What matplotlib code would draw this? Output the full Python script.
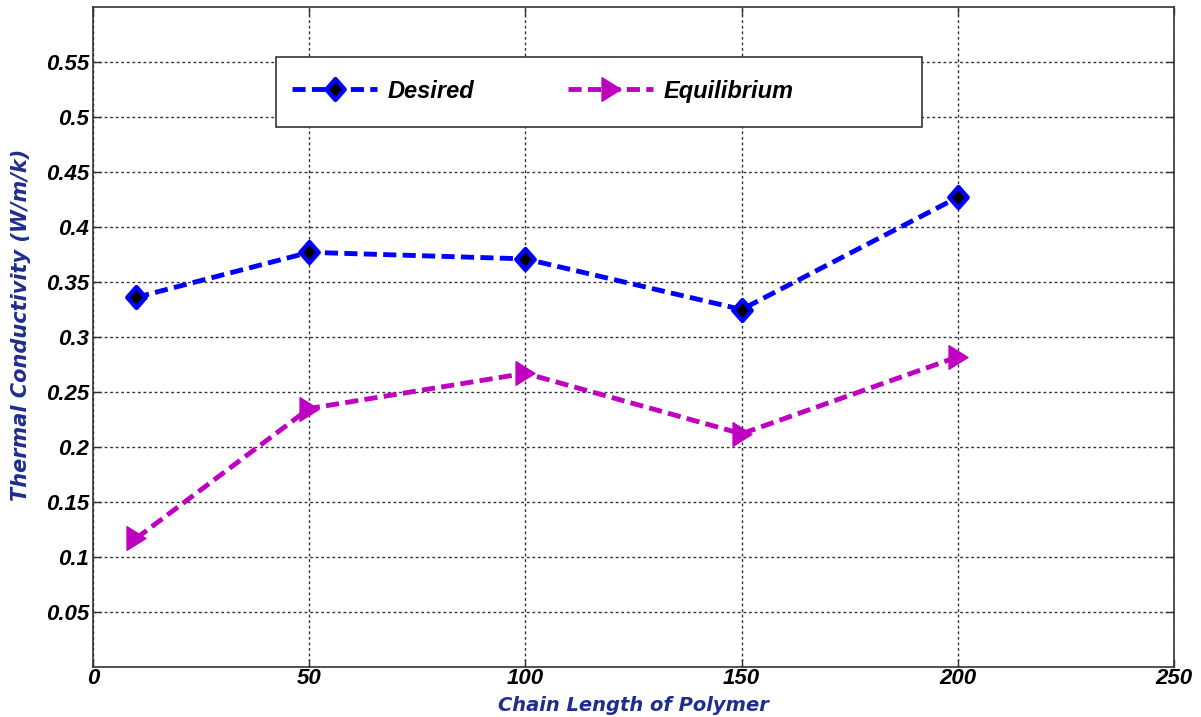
import matplotlib

matplotlib.use("Agg")
import matplotlib.pyplot as plt
from matplotlib.patches import Rectangle
from matplotlib.path import Path

chain_length = [10, 50, 100, 150, 200]
desired = [0.336, 0.377, 0.371, 0.325, 0.427]
equilibrium = [0.117, 0.235, 0.267, 0.212, 0.282]

x_ticks = [0, 50, 100, 150, 200, 250]
y_ticks = [0.05, 0.1, 0.15, 0.2, 0.25, 0.3, 0.35, 0.4, 0.45, 0.5, 0.55]
y_ticklabels = ["0.05", "0.1", "0.15", "0.2", "0.25", "0.3", "0.35", "0.4",
                "0.45", "0.5", "0.55"]

plt.rcParams["font.family"] = ["Liberation Sans", "DejaVu Sans"]
LABEL_COLOR = "#1f2d8f"

# MATLAB-ish markers: tall diamond, right triangle
tall_diamond = Path([(0, 1), (0.88, 0), (0, -1), (-0.88, 0), (0, 1)],
                    [Path.MOVETO, Path.LINETO, Path.LINETO, Path.LINETO, Path.CLOSEPOLY])
right_tri = Path([(-0.8, 1), (0.8, 0), (-0.8, -1), (-0.8, 1)],
                 [Path.MOVETO, Path.LINETO, Path.LINETO, Path.CLOSEPOLY])

fig = plt.figure(figsize=(12.01, 7.17), dpi=100)
ax = fig.add_axes([93 / 1201, 1 - 667 / 717, 1081 / 1201, 660 / 717])

ax.plot(chain_length, desired, color="#0000ff", lw=3.5, dashes=(2.7, 1.3),
        marker=tall_diamond, ms=15, mfc="black", mec="#0000ff", mew=3.2,
        label="Desired", zorder=3)
ax.plot(chain_length, equilibrium, color="#c000c0", lw=3.5, dashes=(2.7, 1.3),
        marker=right_tri, ms=17, mfc="#c000c0", mec="#c000c0", mew=1,
        label="Equilibrium", zorder=3)

ax.set_xlim(0, 250)
ax.set_ylim(0, 0.6)
ax.set_xticks(x_ticks)
ax.set_xticklabels([str(t) for t in x_ticks])
ax.set_yticks(y_ticks)
ax.set_yticklabels(y_ticklabels)
ax.tick_params(direction="in", length=6, width=1, top=True, right=True,
               labelsize=16, colors="#333333", labelcolor="black")
ax.tick_params(axis="x", pad=1)
ax.tick_params(axis="y", pad=3)
for lab in ax.get_xticklabels() + ax.get_yticklabels():
    lab.set_fontweight("bold")
    lab.set_fontstyle("italic")

ax.grid(True, color="#333333", linestyle=(0, (2, 2)), lw=1)
for sp in ax.spines.values():
    sp.set_linewidth(1.2)
    sp.set_color("#333333")

ax.set_xlabel("Chain Length of Polymer", fontsize=14, fontweight="bold",
              fontstyle="italic", color=LABEL_COLOR, family="DejaVu Sans",
              labelpad=5)
ax.set_ylabel("Thermal Conductivity (W/m/k)", fontsize=15, fontweight="bold",
              fontstyle="italic", color=LABEL_COLOR, family="DejaVu Sans")
ax.yaxis.set_label_coords(-0.057, 0.518)

# legend box (MATLAB style, wider than its contents)
ax.add_patch(Rectangle((0.1694, 0.818), 0.5973, 0.1062, transform=ax.transAxes,
                       facecolor="white", edgecolor="#333333", lw=1.2, zorder=4))
leg = ax.legend(loc="center left", bbox_to_anchor=(0.1843, 0.8727),
                ncol=2, frameon=False, handlelength=3.6, handletextpad=0.42,
                columnspacing=4.0, borderpad=0, borderaxespad=0,
                prop={"weight": "bold", "style": "italic", "size": 17})
leg.set_zorder(5)

fig.savefig("out.png", dpi=100)
